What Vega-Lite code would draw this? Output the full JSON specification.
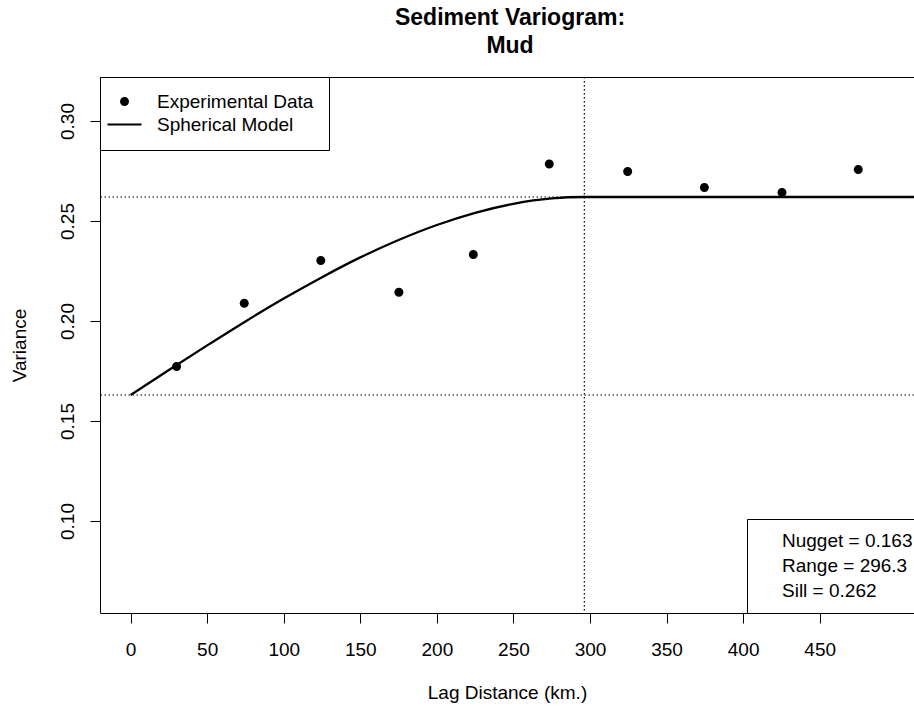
{
  "$schema": "https://vega.github.io/schema/vega-lite/v6.json",
  "width": 814,
  "height": 536,
  "autosize": {"type": "none"},
  "padding": {"left": 100, "top": 77, "right": 0, "bottom": 100},
  "background": "white",
  "config": {
    "font": "Liberation Sans",
    "view": {"stroke": "black", "strokeWidth": 1},
    "axis": {
      "grid": false, "domain": false, "tickColor": "black", "tickSize": 10, "tickWidth": 1,
      "labelColor": "black", "labelFontSize": 19, "titleFontSize": 19,
      "titleFontWeight": "normal", "titleColor": "black",
      "labelFont": "Liberation Sans", "titleFont": "Liberation Sans"
    }
  },
  "title": {
    "text": ["Sediment Variogram:", "Mud"],
    "fontSize": 23, "fontWeight": "bold", "lineHeight": 28, "offset": 18, "dx": 3,
    "anchor": "middle", "color": "black", "font": "Liberation Sans"
  },
  "datasets": {
    "experimental": [
      {"lag": 30.0, "variance": 0.1772, "series": "Experimental Data"},
      {"lag": 74.2, "variance": 0.2089, "series": "Experimental Data"},
      {"lag": 124.2, "variance": 0.2302, "series": "Experimental Data"},
      {"lag": 175.2, "variance": 0.2144, "series": "Experimental Data"},
      {"lag": 223.8, "variance": 0.2332, "series": "Experimental Data"},
      {"lag": 273.4, "variance": 0.2785, "series": "Experimental Data"},
      {"lag": 324.6, "variance": 0.2747, "series": "Experimental Data"},
      {"lag": 374.7, "variance": 0.2668, "series": "Experimental Data"},
      {"lag": 425.4, "variance": 0.2643, "series": "Experimental Data"},
      {"lag": 475.2, "variance": 0.2758, "series": "Experimental Data"}
    ],
    "model": [
      {"lag": 0, "variance": 0.163},
      {"lag": 25, "variance": 0.1755},
      {"lag": 50, "variance": 0.1878},
      {"lag": 75, "variance": 0.1998},
      {"lag": 100, "variance": 0.2112},
      {"lag": 125, "variance": 0.2219},
      {"lag": 150, "variance": 0.2318},
      {"lag": 175, "variance": 0.2405},
      {"lag": 200, "variance": 0.2480},
      {"lag": 225, "variance": 0.2541},
      {"lag": 250, "variance": 0.2586},
      {"lag": 275, "variance": 0.2613},
      {"lag": 296.3, "variance": 0.262},
      {"lag": 511.6, "variance": 0.262}
    ],
    "hlines": [
      {"variance": 0.163, "stat": "Nugget = 0.163"},
      {"variance": 0.262, "stat": "Sill = 0.262"}
    ],
    "vline": [
      {"lag": 296.3, "stat": "Range = 296.3"}
    ]
  },
  "layer": [
    {
      "data": {"name": "hlines"},
      "mark": {"type": "rule", "strokeDash": [1.5, 2.5], "strokeWidth": 1.2},
      "encoding": {
        "y": {"field": "variance", "type": "quantitative", "title": "Variance",
              "scale": {"domain": [0.054, 0.322], "nice": false, "zero": false},
              "axis": {"values": [0.10, 0.15, 0.20, 0.25, 0.30], "format": ".2f", "labelAngle": -90, "labelPadding": 13, "titlePadding": 29}},
        "color": {"field": "stat", "type": "nominal",
                  "scale": {"domain": ["Nugget = 0.163", "Range = 296.3", "Sill = 0.262"], "range": ["black", "black", "black"]},
                  "legend": {"title": null, "orient": "none", "legendX": 647, "legendY": 442, "padding": 12,
                             "strokeColor": "black", "fillColor": "white", "symbolOpacity": 0,
                             "symbolSize": 100, "labelFontSize": 19, "labelOffset": 4, "rowPadding": 5,
                             "labelColor": "black", "cornerRadius": 0}}
      }
    },
    {
      "data": {"name": "vline"},
      "mark": {"type": "rule", "strokeDash": [1.5, 2.5], "strokeWidth": 1.2},
      "encoding": {
        "x": {"field": "lag", "type": "quantitative", "title": "Lag Distance (km.)",
              "scale": {"domain": [-20, 511.6], "nice": false, "zero": false},
              "axis": {"values": [0, 50, 100, 150, 200, 250, 300, 350, 400, 450], "labelPadding": 17, "titlePadding": 24, "labelAngle": 0}},
        "color": {"field": "stat", "type": "nominal",
                  "scale": {"domain": ["Nugget = 0.163", "Range = 296.3", "Sill = 0.262"], "range": ["black", "black", "black"]}}
      }
    },
    {
      "data": {"name": "model"},
      "mark": {"type": "line", "color": "black", "strokeWidth": 2.3, "interpolate": "monotone"},
      "encoding": {
        "x": {"field": "lag", "type": "quantitative", "title": "Lag Distance (km.)",
              "scale": {"domain": [-20, 511.6], "nice": false, "zero": false},
              "axis": {"values": [0, 50, 100, 150, 200, 250, 300, 350, 400, 450], "labelPadding": 17, "titlePadding": 24, "labelAngle": 0}},
        "y": {"field": "variance", "type": "quantitative", "title": "Variance",
              "scale": {"domain": [0.054, 0.322], "nice": false, "zero": false},
              "axis": {"values": [0.10, 0.15, 0.20, 0.25, 0.30], "format": ".2f", "labelAngle": -90, "labelPadding": 13, "titlePadding": 29}}
      }
    },
    {
      "data": {"name": "experimental"},
      "mark": {"type": "point", "filled": true, "fill": "black", "strokeWidth": 0, "size": 100, "opacity": 1},
      "encoding": {
        "x": {"field": "lag", "type": "quantitative", "title": "Lag Distance (km.)",
              "scale": {"domain": [-20, 511.6], "nice": false, "zero": false},
              "axis": {"values": [0, 50, 100, 150, 200, 250, 300, 350, 400, 450], "labelPadding": 17, "titlePadding": 24, "labelAngle": 0}},
        "y": {"field": "variance", "type": "quantitative", "title": "Variance",
              "scale": {"domain": [0.054, 0.322], "nice": false, "zero": false},
              "axis": {"values": [0.10, 0.15, 0.20, 0.25, 0.30], "format": ".2f", "labelAngle": -90, "labelPadding": 13, "titlePadding": 29}},
        "shape": {"field": "series", "type": "nominal",
                  "scale": {"domain": ["Experimental Data", "Spherical Model"],
                            "range": ["M-0.9,0A0.9,0.9,0,1,0,0.9,0A0.9,0.9,0,1,0,-0.9,0Z", "M-3.4,-0.22H3.4V0.22H-3.4Z"]},
                  "legend": {"title": null, "orient": "top-left", "offset": 0, "padding": 15,
                             "strokeColor": "black", "fillColor": "white", "symbolSize": 100,
                             "symbolStrokeWidth": 0, "symbolFillColor": "black",
                             "labelFontSize": 19, "labelOffset": 23, "rowPadding": 3, "labelColor": "black", "cornerRadius": 0}}
      }
    }
  ]
}
